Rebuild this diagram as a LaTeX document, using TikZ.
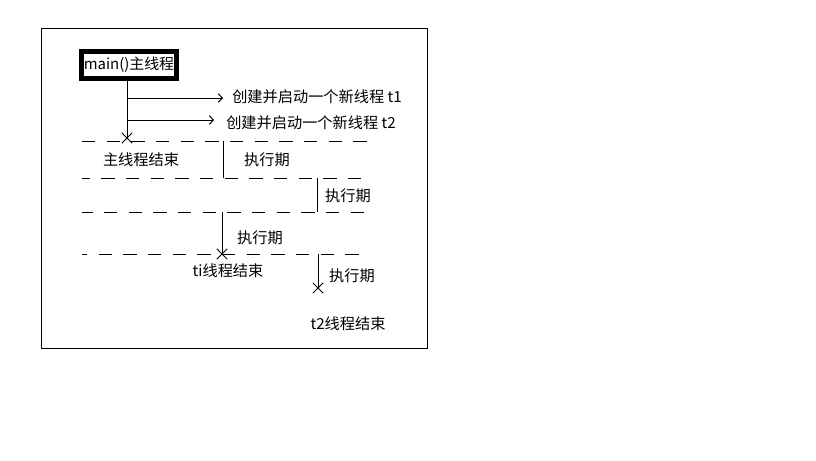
\documentclass[tikz,border=0pt]{standalone}
\usepackage{fontspec}
\setmainfont{Noto Sans CJK SC}
\usepackage{tikz}
\usetikzlibrary{arrows.meta,positioning,shapes.misc}
\tikzset{
  thinline/.style={line width=0.75pt, draw=black},
  spawnarrow/.style={thinline, -{Straight Barb[length=3pt,width=6.5pt]}},
  phaseline/.style={thinline, dash pattern=on 10pt off 8.5pt},
  threadlabel/.style={font=\fontsize{11.4}{13}\selectfont, inner sep=0pt},
  endmark/.style={cross out, draw, line width=0.75pt, minimum size=7pt, inner sep=0pt},
  mainbox/.style={draw, line width=3.9pt, fill=white, inner sep=0pt,
    minimum width=71pt, minimum height=20pt, font=\fontsize{11.2}{13}\selectfont}
}

\begin{document}
\begin{tikzpicture}[x=0.75pt, y=-0.75pt]
    \useasboundingbox (0,0) rectangle (816,460);
    \draw[thinline] (41,29) rectangle (427,348);

    % main thread
    \node[mainbox] (main) at (129,65) {main()主线程};
    \node[endmark] (mainend) at (127,138) {};
    \draw[thinline] (main.south -| mainend) -- (mainend.center);

    % spawned threads
    \coordinate (s1) at (127,98);
    \coordinate (s2) at (127,120);
    \coordinate (t1tip) at (223,98);
    \coordinate (t2tip) at (214,120);
    \draw[spawnarrow] (s1) -- (t1tip);
    \draw[spawnarrow] (s2) -- (t2tip);
    \node[threadlabel, anchor=west] (t1text) at (232,97) {创建并启动一个新线程 t1};
    \node[threadlabel, anchor=west] (t2text) at (226,123) {创建并启动一个新线程 t2};

    % phase separators
    \coordinate (p1w) at (82,141); \coordinate (p1e) at (368,141);
    \coordinate (p2w) at (82,178); \coordinate (p2e) at (366,178);
    \coordinate (p3w) at (82,212); \coordinate (p3e) at (369,212);
    \coordinate (p4w) at (82,254); \coordinate (p4e) at (362,254);
    \draw[phaseline] (p1w) -- (p1e);
    \draw[phaseline, dash phase=4pt] (p2w) -- (p2e);
    \draw[phaseline, dash phase=2pt] (p3w) -- (p3e);
    \draw[phaseline, dash phase=6pt] (p4w) -- (p4e);

    \node[threadlabel] (mainendtext) at (141,160) {主线程结束};

    % execution periods
    \coordinate (e1top) at (223,141); \coordinate (e1bot) at (223,178);
    \draw[thinline] (e1top) -- (e1bot);
    \node[threadlabel] (run1) at (267,160) {执行期};

    \coordinate (e2top) at (317,178); \coordinate (e2bot) at (317,212);
    \draw[thinline] (e2top) -- (e2bot);
    \node[threadlabel] (run2) at (348,196) {执行期};

    \coordinate (e3top) at (222,212);
    \node[endmark] (t1end) at (222,254) {};
    \draw[thinline] (e3top) -- (t1end.center);
    \node[threadlabel] (run3) at (260,238) {执行期};
    \node[threadlabel] (t1endtext) at (228,271) {ti线程结束};

    \coordinate (e4top) at (318,254);
    \node[endmark] (t2end) at (318,288) {};
    \draw[thinline] (e4top) -- (t2end.center);
    \node[threadlabel] (run4) at (352,276) {执行期};
    \node[threadlabel] (t2endtext) at (348,324) {t2线程结束};
  \end{tikzpicture}
\end{document}
